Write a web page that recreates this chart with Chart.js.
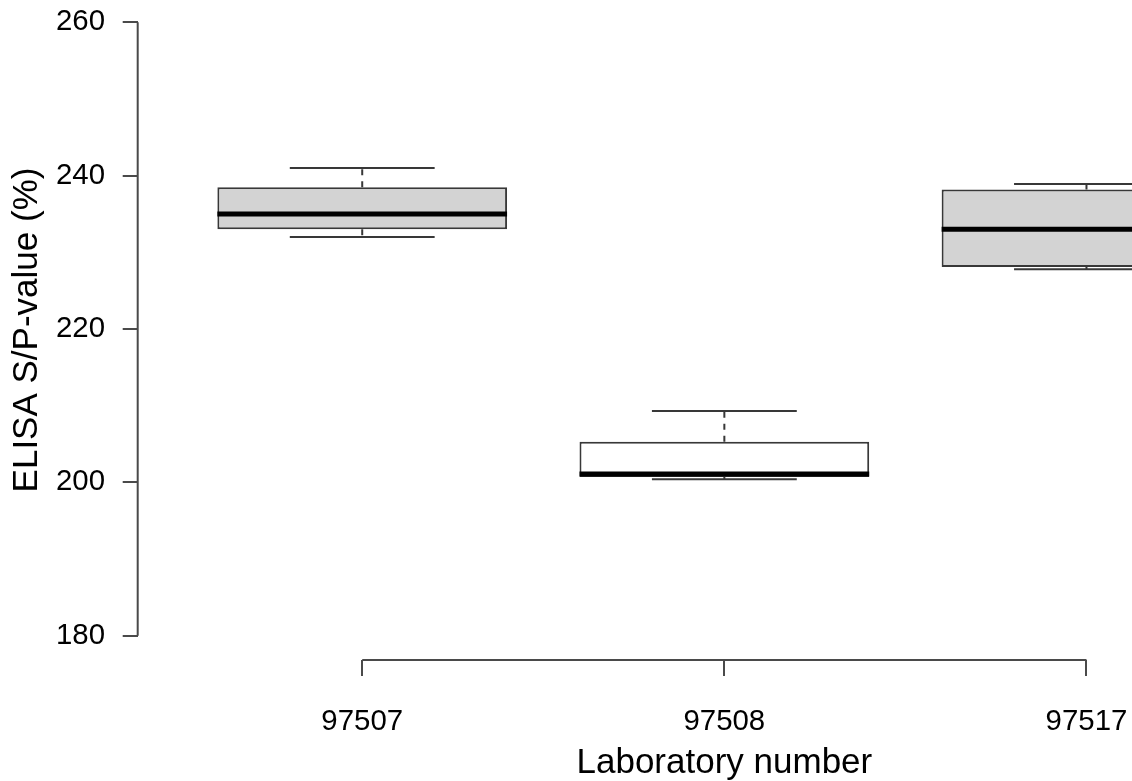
<!DOCTYPE html>
<html>
<head>
<meta charset="utf-8">
<script src="https://cdn.jsdelivr.net/npm/chart.js@4/dist/chart.umd.min.js"></script>
<style>
  html, body { margin: 0; padding: 0; background: #ffffff; }
  #wrap { width: 1132px; height: 781px; overflow: hidden; position: relative; background: #ffffff; }
  #c { display: block; }
</style>
</head>
<body>
<div id="wrap"><canvas id="c" width="1311" height="781" style="width:1311px;height:781px"></canvas></div>
<script>
// ---- data ----
const labNumbers   = ['97507', '97508', '97517'];
const groupPos     = [1, 2, 3];
const whiskerLow   = [232.0, 200.4, 227.8];
const lowerQuart   = [233.0, 200.7, 228.1];
const medians      = [235.0, 201.1, 233.0];
const upperQuart   = [238.5, 205.3, 238.2];
const whiskerHigh  = [241.0, 209.3, 238.9];
const yTickValues  = [180, 200, 220, 240, 260];

// ---- styles ----
const boxFills = ['#d3d3d3', '#ffffff', '#d3d3d3'];
const lineCol = '#383838';
const axisCol = '#4a4a4a';
const FONT = "'Liberation Sans', Arial, Helvetica, sans-serif";

const boxData = groupPos.map((p, i) => ({ x: p, y: [lowerQuart[i], upperQuart[i]] }));

const boxExtras = {
  id: 'boxExtras',
  afterDatasetsDraw(chart) {
    const ctx = chart.ctx;
    const xs = chart.scales.x, ys = chart.scales.y;
    const unit = xs.getPixelForValue(1) - xs.getPixelForValue(0);
    ctx.save();
    groupPos.forEach((p, i) => {
      const cx = xs.getPixelForValue(p);
      const capHalf = unit * 0.2;
      const boxHalf = unit * 0.4;
      // dashed whiskers
      ctx.strokeStyle = lineCol;
      ctx.lineWidth = 2;
      ctx.setLineDash([6, 6]);
      ctx.beginPath();
      ctx.moveTo(cx, ys.getPixelForValue(upperQuart[i]));
      ctx.lineTo(cx, ys.getPixelForValue(whiskerHigh[i]));
      ctx.moveTo(cx, ys.getPixelForValue(lowerQuart[i]));
      ctx.lineTo(cx, ys.getPixelForValue(whiskerLow[i]));
      ctx.stroke();
      // staples
      ctx.setLineDash([]);
      ctx.beginPath();
      const yh = ys.getPixelForValue(whiskerHigh[i]);
      const yl = ys.getPixelForValue(whiskerLow[i]);
      ctx.moveTo(cx - capHalf, yh); ctx.lineTo(cx + capHalf, yh);
      ctx.moveTo(cx - capHalf, yl); ctx.lineTo(cx + capHalf, yl);
      ctx.stroke();
      // median
      const ym = ys.getPixelForValue(medians[i]);
      ctx.strokeStyle = '#000000';
      ctx.lineWidth = 5;
      ctx.lineCap = 'butt';
      ctx.beginPath();
      ctx.moveTo(cx - boxHalf, ym); ctx.lineTo(cx + boxHalf, ym);
      ctx.stroke();
    });
    // axis lines (R style: span first to last tick)
    ctx.strokeStyle = axisCol;
    ctx.lineWidth = 2;
    ctx.beginPath();
    const ax = chart.chartArea.left;
    ctx.moveTo(ax, ys.getPixelForValue(yTickValues[0]));
    ctx.lineTo(ax, ys.getPixelForValue(yTickValues[yTickValues.length - 1]));
    const by = chart.chartArea.bottom;
    ctx.moveTo(xs.getPixelForValue(groupPos[0]), by);
    ctx.lineTo(xs.getPixelForValue(groupPos[groupPos.length - 1]), by);
    ctx.stroke();
    ctx.restore();
  }
};

new Chart(document.getElementById('c'), {
  type: 'bar',
  data: {
    datasets: [{
      data: boxData,
      backgroundColor: boxFills,
      borderColor: lineCol,
      borderWidth: 2,
      borderSkipped: false,
      categoryPercentage: 1,
      barPercentage: 0.8
    }]
  },
  options: {
    responsive: false,
    devicePixelRatio: 1,
    animation: false,
    layout: { padding: 0 },
    plugins: { legend: { display: false }, tooltip: { enabled: false } },
    scales: {
      x: {
        type: 'linear',
        min: 0.38,
        max: 3.62,
        offset: false,
        afterBuildTicks: (s) => { s.ticks = groupPos.map(v => ({ value: v })); },
        afterFit: (s) => { s.height = 121; s.paddingLeft = 0; s.paddingRight = 0; },
        grid: { display: true, offset: false, drawOnChartArea: false, drawTicks: true, tickLength: 16, color: axisCol, lineWidth: 2, tickWidth: 2 },
        border: { display: false },
        ticks: {
          padding: 28,
          maxRotation: 0,
          autoSkip: false,
          color: '#000000',
          font: { family: FONT, size: 29.4 },
          callback: (v, i) => labNumbers[i]
        },
        title: {
          display: true,
          text: 'Laboratory number',
          color: '#000000',
          font: { family: FONT, size: 35, lineHeight: 1 },
          padding: { top: 0, bottom: 0 }
        }
      },
      y: {
        type: 'linear',
        min: 176.83,
        max: 262.91,
        beginAtZero: false,
        afterBuildTicks: (s) => { s.ticks = yTickValues.map(v => ({ value: v })); },
        afterFit: (s) => { s.width = 137.7; s.paddingTop = 0; s.paddingBottom = 0; },
        grid: { display: true, drawOnChartArea: false, drawTicks: true, tickLength: 15, color: axisCol, lineWidth: 2, tickWidth: 2 },
        border: { display: false },
        ticks: {
          padding: 17.7,
          color: '#000000',
          font: { family: FONT, size: 29.4 },
          callback: (v) => String(v)
        },
        title: {
          display: true,
          text: 'ELISA S/P-value (%)',
          color: '#000000',
          font: { family: FONT, size: 35, lineHeight: 1 },
          padding: { top: 9.7, bottom: 0 }
        }
      }
    }
  },
  plugins: [boxExtras]
});
</script>
</body>
</html>
